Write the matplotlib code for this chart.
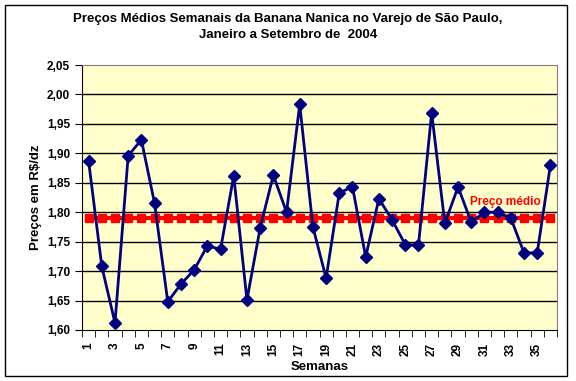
import matplotlib
matplotlib.use("Agg")
import matplotlib.pyplot as plt
from matplotlib.patches import Rectangle

plt.rcParams['font.family'] = ['Liberation Sans', 'DejaVu Sans']

semanas = list(range(1, 37))
precos = [1.887, 1.708, 1.612, 1.896, 1.923, 1.815, 1.648, 1.678, 1.702, 1.743,
          1.737, 1.862, 1.651, 1.773, 1.863, 1.800, 1.983, 1.775, 1.688, 1.833,
          1.843, 1.724, 1.823, 1.787, 1.745, 1.744, 1.969, 1.781, 1.843, 1.783,
          1.800, 1.800, 1.790, 1.731, 1.731, 1.880]
preco_medio = [1.79] * 36
yticks = [1.60, 1.65, 1.70, 1.75, 1.80, 1.85, 1.90, 1.95, 2.00, 2.05]

fig = plt.figure(figsize=(5.76, 3.81), dpi=100)
ax = fig.add_axes([82/576, 1 - 330/381, 475/576, 265/381])
ax.set_facecolor('#FFFFCC')

# border around whole chart
fig.patches.append(Rectangle((5/576, 5/381), 562/576, 371/381, transform=fig.transFigure,
                             fill=False, edgecolor='black', linewidth=1))

for y in yticks[1:-1]:
    ax.axhline(y, color='black', linewidth=1, zorder=1)

ax.plot(semanas, preco_medio, color='red', linewidth=3, marker='s', markersize=5.5, zorder=2)
ax.plot(semanas, precos, color='#000080', linewidth=2, marker='D', markersize=6.5, zorder=3)

ax.text(32.6, 1.817, 'Preço médio', color='red', fontweight='bold', fontsize=8.5,
        ha='center', va='center', zorder=4)

ax.set_xlim(0.5, 36.5)
ax.set_ylim(1.60, 2.05)
ax.set_yticks(yticks)
ax.set_yticklabels([('%.2f' % v).replace('.', ',') for v in yticks], fontweight='bold', fontsize=8.5)
ax.set_xticks(semanas[::2])
ax.set_xticklabels([str(s) for s in semanas[::2]], rotation=90, fontweight='bold', fontsize=8.5)
ax.set_xticks([i + 0.5 for i in range(0, 37)], minor=True)
ax.tick_params(axis='x', which='major', length=0, pad=9)
ax.tick_params(axis='x', which='minor', length=5, direction='out')
ax.tick_params(axis='y', length=5, direction='out')

for side in ['top', 'right']:
    ax.spines[side].set_color('grey')
ax.spines['left'].set_color('black')
ax.spines['bottom'].set_color('black')

ax.set_xlabel('Semanas', fontweight='bold', fontsize=9.5, labelpad=4)
ax.set_ylabel('Preços em R\\$/dz', fontweight='bold', fontsize=9.5)
fig.suptitle('Preços Médios Semanais da Banana Nanica no Varejo de São Paulo,\nJaneiro a Setembro de  2004',
             fontweight='bold', fontsize=9.5, y=0.965, va='top', linespacing=1.45)

fig.savefig('out.png', dpi=100)
